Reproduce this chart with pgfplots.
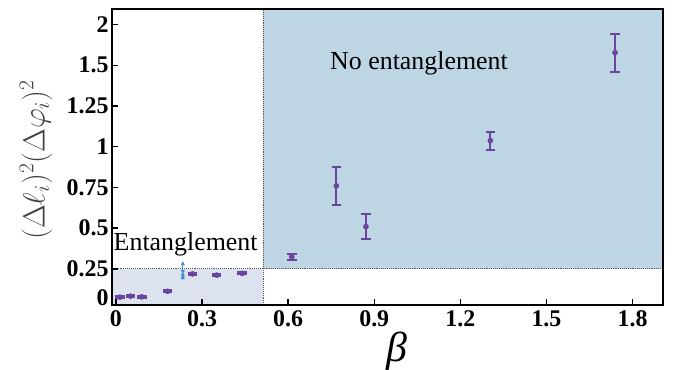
\documentclass[border=0pt]{standalone}
\usepackage{fontspec}
\setmainfont{Liberation Serif}
\usepackage{pgfplots}
\pgfplotsset{compat=1.18}
\usetikzlibrary{arrows.meta}
\definecolor{blueregion}{HTML}{BED6E4}
\definecolor{lavregion}{HTML}{DCE2EE}
\definecolor{pur}{HTML}{6A449E}
\definecolor{arrowblue}{HTML}{3A8FD0}

\pgfplotstableread{
x      y      ep     em
0.014  0.076  0.006  0.006
0.051  0.082  0.006  0.006
0.090  0.078  0.006  0.006
0.180  0.112  0.006  0.006
0.267  0.219  0.006  0.006
0.351  0.211  0.006  0.006
0.440  0.222  0.006  0.006
0.6125 0.324  0.017  0.022
0.768  0.759  0.114  0.117
0.871  0.509  0.079  0.078
1.3045 1.037  0.055  0.055
1.739  1.577  0.113  0.116
}\datatable

\begin{document}
\begin{tikzpicture}
\begin{axis}[
  scale only axis, width=551bp, height=296bp,
  xmin=-0.0136, xmax=1.906, ymin=0.028, ymax=1.845,
  axis line style={line width=1.6bp},
  axis on top,
  xtick={0,0.3,0.6,0.9,1.2,1.5,1.8},
  xticklabels={0,0.3,0.6,0.9,1.2,1.5,1.8},
  ytick={0.25,0.5,0.75,1,1.25,1.5,1.75},
  yticklabels={0.25,0.5,0.75,1,1.25,1.5,2},
  extra y ticks={0.07}, extra y tick labels={0},
  extra y tick style={major tick length=0pt},
  tick align=inside, xtick pos=bottom, ytick pos=left,
  major tick length=6bp, tick style={line width=1.4bp, black},
  tick label style={font=\fontsize{24}{26}\selectfont\bfseries},
  xticklabel style={yshift=-2bp},
  xlabel={\textit{β}},
  xlabel style={font=\fontsize{42}{44}\selectfont, at={(axis description cs:0.517,-0.155)}, anchor=center},
  ylabel={$(\Delta\ell_i)^2(\Delta\varphi_i)^2$},
  ylabel style={font=\fontsize{24}{26}\selectfont, scale=1.24, text=black!75, at={(axis description cs:-0.138,0.49)}, anchor=center},
]
\coordinate (sw) at (rel axis cs:0,0);
\addplot[draw=none, fill=blueregion] coordinates {(0.514,0.25) (1.906,0.25) (1.906,1.845) (0.514,1.845)} -- cycle;
\addplot[draw=none, fill=lavregion] coordinates {(-0.0136,0.028) (0.514,0.028) (0.514,0.25) (-0.0136,0.25)} -- cycle;
\addplot[densely dotted, black!65, line width=0.9bp] coordinates {(0.514,0.028) (0.514,1.845)};
\addplot[densely dotted, black!65, line width=0.9bp] coordinates {(-0.0136,0.25) (1.906,0.25)};
\node[anchor=base, font=\fontsize{26}{28}\selectfont] at (axis cs:1.056,1.475) {No entanglement};
\node[anchor=base, font=\fontsize{26}{28}\selectfont] at (axis cs:0.243,0.361) {Entanglement};
\addplot[pur, only marks, mark=*, mark size=2.6bp,
  error bars/.cd, y dir=both, y explicit, error mark=|,
  error bar style={line width=2bp, pur},
  error mark options={pur, mark size=4.8bp, line width=2bp}]
  table[x=x, y=y, y error plus=ep, y error minus=em] {\datatable};
\addplot[arrowblue, only marks, mark=*, mark size=1.4bp,
  error bars/.cd, y dir=both, y explicit, error mark=none,
  error bar style={line width=1.2bp, arrowblue, {Latex[length=4.5bp,width=4.5bp]}-{Latex[length=4.5bp,width=4.5bp]}}]
  coordinates {(0.233,0.215) += (0,0.085) -= (0,0.034)};
\end{axis}
\pgfresetboundingbox
\path (sw) ++(-112bp,-65bp) rectangle ++(676bp,370bp);
\end{tikzpicture}
\end{document}
